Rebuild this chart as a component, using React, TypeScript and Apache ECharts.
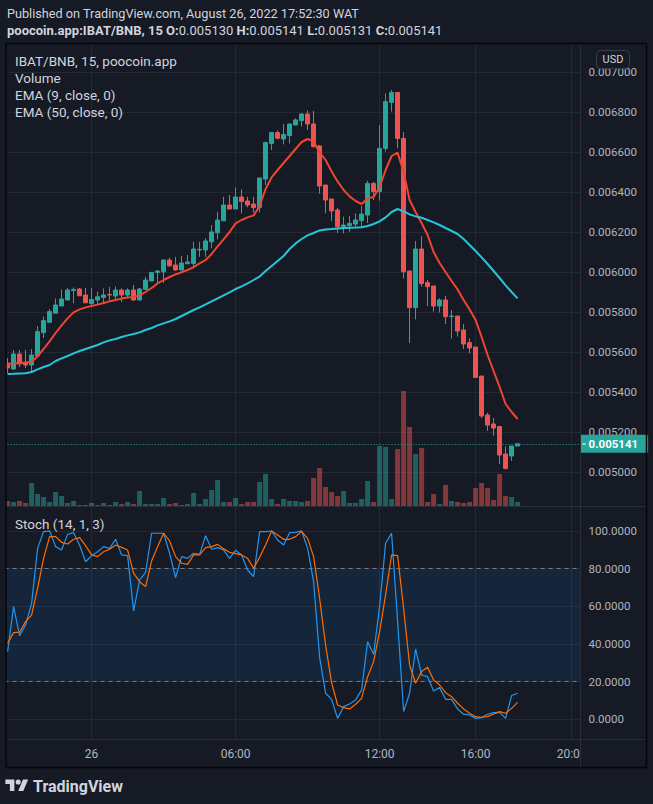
import React, { useEffect, useRef } from 'react';
import * as echarts from 'echarts';

// ---------- data ----------
// 15-minute bars, first bar 20:30 on Aug 25, last bar 17:45 on Aug 26
// [open, close, low, high]
const candles: number[][] = [
  [0.005545, 0.00552, 0.005495, 0.00557],
  [0.005515, 0.00559, 0.00551, 0.00561],
  [0.00559, 0.00554, 0.005525, 0.00561],
  [0.005547, 0.005535, 0.00552, 0.00561],
  [0.005535, 0.005585, 0.0055, 0.005615],
  [0.00558, 0.005702, 0.00558, 0.00573],
  [0.005697, 0.005757, 0.00567, 0.005777],
  [0.005749, 0.005802, 0.005745, 0.005815],
  [0.005794, 0.005835, 0.005794, 0.005868],
  [0.00583, 0.005865, 0.00583, 0.005913],
  [0.00586, 0.00591, 0.00586, 0.00592],
  [0.005907, 0.005913, 0.005843, 0.005923],
  [0.005915, 0.005881, 0.005881, 0.00592],
  [0.005885, 0.005846, 0.005845, 0.00592],
  [0.005843, 0.005863, 0.005826, 0.00592],
  [0.00586, 0.005876, 0.005835, 0.005901],
  [0.005873, 0.005885, 0.005848, 0.005918],
  [0.005887, 0.005885, 0.005851, 0.005926],
  [0.00588, 0.00591, 0.00586, 0.005927],
  [0.00591, 0.005885, 0.005851, 0.005918],
  [0.005885, 0.00591, 0.00587, 0.005918],
  [0.00591, 0.00586, 0.005857, 0.005935],
  [0.00586, 0.005915, 0.005858, 0.00592],
  [0.005913, 0.00596, 0.005913, 0.005975],
  [0.005955, 0.005998, 0.005955, 0.005998],
  [0.005998, 0.006005, 0.005945, 0.00601],
  [0.006001, 0.00606, 0.005945, 0.006063],
  [0.00606, 0.006031, 0.006026, 0.006071],
  [0.006035, 0.00601, 0.006006, 0.006076],
  [0.00601, 0.006045, 0.00601, 0.006081],
  [0.006041, 0.00605, 0.00604, 0.006085],
  [0.006043, 0.006115, 0.006018, 0.006151],
  [0.00611, 0.006113, 0.006076, 0.006151],
  [0.00611, 0.006155, 0.006076, 0.006168],
  [0.006151, 0.0062, 0.006118, 0.006235],
  [0.006196, 0.00626, 0.006163, 0.006301],
  [0.006256, 0.006335, 0.006256, 0.006376],
  [0.006335, 0.006315, 0.006315, 0.006385],
  [0.006315, 0.006375, 0.006315, 0.006423],
  [0.006375, 0.006352, 0.006293, 0.006413],
  [0.006355, 0.006335, 0.006324, 0.006376],
  [0.00634, 0.006322, 0.006297, 0.006376],
  [0.006322, 0.00647, 0.006297, 0.00647],
  [0.006465, 0.006647, 0.006435, 0.006652],
  [0.006643, 0.006697, 0.00661, 0.006697],
  [0.006697, 0.006669, 0.006663, 0.006707],
  [0.006665, 0.006687, 0.006638, 0.00674],
  [0.006682, 0.00674, 0.006643, 0.006743],
  [0.006735, 0.00676, 0.006735, 0.006768],
  [0.006757, 0.00679, 0.006727, 0.006793],
  [0.00679, 0.00674, 0.00671, 0.006807],
  [0.00674, 0.006627, 0.006622, 0.006805],
  [0.00663, 0.00643, 0.006392, 0.006635],
  [0.006435, 0.00636, 0.006293, 0.006435],
  [0.006365, 0.006305, 0.006255, 0.006365],
  [0.00631, 0.006227, 0.006195, 0.00632],
  [0.006227, 0.006235, 0.006193, 0.006277],
  [0.006232, 0.006243, 0.006201, 0.00628],
  [0.00624, 0.00626, 0.006227, 0.006293],
  [0.006257, 0.00629, 0.006227, 0.00633],
  [0.006285, 0.006443, 0.006245, 0.006456],
  [0.006443, 0.006402, 0.00636, 0.006451],
  [0.006402, 0.006618, 0.006357, 0.006735],
  [0.006618, 0.006852, 0.006602, 0.006893],
  [0.006848, 0.006898, 0.006802, 0.00691],
  [0.006898, 0.006668, 0.006618, 0.0069],
  [0.006668, 0.006001, 0.005968, 0.0067],
  [0.006005, 0.005822, 0.005645, 0.006005],
  [0.005822, 0.006115, 0.005763, 0.006155],
  [0.006115, 0.005943, 0.005927, 0.006178],
  [0.005947, 0.005927, 0.00583, 0.00596],
  [0.00593, 0.00583, 0.005802, 0.00593],
  [0.00583, 0.00586, 0.005797, 0.005869],
  [0.00586, 0.005777, 0.00574, 0.00588],
  [0.005777, 0.00578, 0.005667, 0.00581],
  [0.00578, 0.005705, 0.005677, 0.00578],
  [0.00571, 0.00564, 0.005615, 0.00574],
  [0.005647, 0.00562, 0.005593, 0.005668],
  [0.005625, 0.005473, 0.00547, 0.005625],
  [0.00548, 0.00528, 0.005271, 0.00548],
  [0.005285, 0.005235, 0.005206, 0.005296],
  [0.00524, 0.00522, 0.005182, 0.00527],
  [0.005227, 0.005085, 0.00504, 0.005227],
  [0.00509, 0.005018, 0.005013, 0.005127],
  [0.00508, 0.00513, 0.005055, 0.00513],
  [0.00513, 0.005141, 0.00513, 0.005141],
];

const volumes: number[] = [
  5, 4, 5, 3, 23, 12, 9, 4, 14, 10,
  3, 5, 1, 1, 3, 1, 3, 1, 4, 2,
  4, 2, 15, 2, 2, 2, 8, 2, 3, 1,
  2, 13, 2, 7, 16, 26, 4, 4, 8, 2,
  4, 4, 24, 32, 7, 2, 7, 5, 5, 4,
  5, 28, 38, 19, 14, 10, 15, 3, 3, 7,
  25, 4, 60, 59, 7, 57, 115, 79, 52, 58,
  4, 12, 2, 21, 5, 4, 3, 4, 18, 23,
  18, 6, 32, 10, 9, 4,
];

const ema9: number[] = [
  0.00554, 0.005543, 0.005545, 0.005548, 0.005551, 0.005578, 0.005615, 0.005653, 0.005695, 0.005733,
  0.005768, 0.005798, 0.005813, 0.005823, 0.00583, 0.005837, 0.005845, 0.005853, 0.00586, 0.005867,
  0.005873, 0.005875, 0.005883, 0.0059, 0.00592, 0.005943, 0.00596, 0.005975, 0.005988, 0.005999,
  0.00601, 0.006024, 0.006043, 0.00606, 0.00609, 0.006128, 0.006163, 0.0062, 0.006243, 0.00626,
  0.006273, 0.006283, 0.00633, 0.006415, 0.006473, 0.00651, 0.006545, 0.00658, 0.006615, 0.00665,
  0.006665, 0.006653, 0.006598, 0.00656, 0.006503, 0.006453, 0.00641, 0.006378, 0.006355, 0.00634,
  0.006368, 0.006375, 0.006425, 0.00651, 0.00658, 0.006597, 0.0065, 0.00636, 0.0063, 0.006245,
  0.006185, 0.0061, 0.006045, 0.006, 0.005955, 0.005913, 0.00586, 0.005813, 0.00576, 0.005675,
  0.005585, 0.005505, 0.005425, 0.00534, 0.0053, 0.005265,
];

const ema50: number[] = [
  0.00549, 0.005491, 0.005493, 0.005494, 0.0055, 0.005513, 0.005525, 0.005535, 0.005555, 0.005568,
  0.00558, 0.005593, 0.005605, 0.005615, 0.005625, 0.005635, 0.005648, 0.005658, 0.005665, 0.005675,
  0.005683, 0.00569, 0.005698, 0.00571, 0.00572, 0.005733, 0.005743, 0.005753, 0.005765, 0.00578,
  0.005795, 0.00581, 0.005823, 0.005838, 0.005853, 0.005868, 0.005883, 0.005898, 0.005915, 0.005928,
  0.005943, 0.00596, 0.005977, 0.006005, 0.00603, 0.006055, 0.00608, 0.006115, 0.006143, 0.006165,
  0.006183, 0.006195, 0.006208, 0.006213, 0.006215, 0.006218, 0.00622, 0.006221, 0.006222, 0.006224,
  0.00623, 0.00624, 0.006253, 0.006273, 0.0063, 0.006315, 0.006303, 0.006288, 0.006278, 0.006271,
  0.00626, 0.006248, 0.006235, 0.00622, 0.006205, 0.00619, 0.006165, 0.006135, 0.006105, 0.006073,
  0.00604, 0.006005, 0.00597, 0.005933, 0.0059, 0.005868,
];

const stochK: number[] = [
  35.9, 59.8, 44.4, 50.0, 61.5, 90.7, 99.6, 100, 91.6, 89.8,
  98.1, 99.0, 92.5, 83.6, 86.8, 88.9, 91.6, 90.7, 95.5, 87.2,
  86.8, 57.5, 73.9, 78.0, 98.7, 98.7, 98.7, 88.1, 75.2, 86.3,
  85.4, 88.1, 87.5, 97.4, 90.2, 91.1, 89.8, 85.4, 89.7, 87.2,
  79.2, 75.7, 99.6, 99.6, 99.9, 95.1, 92.5, 99.0, 99.2, 100,
  90.7, 73.0, 33.0, 13.8, 10.6, 0.5, 6.7, 8.1, 10.3, 15.6,
  41.2, 34.5, 59.8, 93.4, 98.7, 52.0, 4.1, 13.8, 37.3, 23.5,
  22.6, 15.0, 16.8, 10.6, 10.6, 5.5, 2.7, 2.3, 0.5, 0.9,
  2.7, 3.5, 3.7, 0.5, 12.6, 13.8,
];

const stochD: number[] = [
  40.3, 46.0, 46.2, 51.8, 55.3, 69.5, 85.4, 96.9, 96.9, 93.9,
  93.0, 95.5, 96.4, 92.1, 87.2, 86.3, 88.9, 90.2, 92.5, 91.2,
  89.8, 77.5, 73.0, 70.4, 84.0, 91.6, 98.7, 94.6, 86.3, 82.8,
  82.2, 87.2, 87.2, 91.1, 91.6, 92.8, 90.4, 88.6, 87.9, 87.2,
  85.4, 80.1, 85.9, 92.5, 99.9, 97.8, 95.5, 95.5, 96.9, 99.6,
  96.0, 86.3, 64.2, 39.4, 19.5, 7.6, 6.2, 5.5, 8.0, 11.1,
  22.6, 30.6, 46.5, 66.0, 87.2, 86.8, 58.9, 28.8, 19.1, 25.3,
  27.6, 20.9, 18.2, 14.1, 12.0, 8.5, 5.5, 3.2, 1.4, 1.1,
  1.4, 2.8, 4.1, 3.2, 5.8, 9.0,
];

const timeTicks: string[] = ['00:00', '06:00', '12:00', '16:00', '20:00'];
const timeTickLabels: string[] = ['26', '06:00', '12:00', '16:00', '20:00'];

const headerLine1 = 'Published on TradingView.com, August 26, 2022 17:52:30 WAT';
const legendLines: string[] = ['IBAT/BNB, 15, poocoin.app', 'Volume', 'EMA (9, close, 0)', 'EMA (50, close, 0)'];

// ---------- styling ----------
const BG = '#161a25';
const GRID = '#242834';
const UP = '#26a69a';
const DOWN = '#ef5350';
const VOL_UP = 'rgba(38,166,154,0.5)';
const VOL_DOWN = 'rgba(239,83,80,0.5)';
const TEXT = '#d1d4dc';
const AXIS_TEXT = '#b2b5be';
const FONT = 'Roboto';

// time slots: 15-minute categories from 20:30 (Aug 25), including empty future slots
const START_MIN = 20 * 60 + 30;
const SLOTS = 96;
const categories: string[] = Array.from({ length: SLOTS }, (_, i) => {
  const m = (START_MIN + 15 * i) % 1440;
  return `${String(Math.floor(m / 60)).padStart(2, '0')}:${String(m % 60).padStart(2, '0')}`;
});

echarts.graphic.registerShape(
  'tvlogo',
  echarts.graphic.extendPath('M14 22H7V11H0V4h14v18zM28 22h-8l7.5-18h8L28 22zM24 8a4 4 0 1 1-8 0a4 4 0 1 1 8 0z', {})
);

export default function App() {
  const ref = useRef<HTMLDivElement>(null);

  useEffect(() => {
    document.body.style.margin = '0';
    document.body.style.background = BG;
    const chart = echarts.init(ref.current!, null, { renderer: 'svg' });
    const last = candles[candles.length - 1];
    const lastClose = last[1];
    const isTick = (_: number, v: string) => timeTicks.indexOf(v) >= 0;

    const option: any = {
      animation: false,
      backgroundColor: BG,
      textStyle: { fontFamily: FONT },
      grid: [
        { left: 4.6, top: 32, width: 576, height: 480 },
        { left: 4.6, top: 306, width: 576, height: 200 },
        { left: 4.6, top: 493.1, width: 576, height: 263.9 },
        { left: 7.6, top: 44, width: 570, height: 695 },
      ],
      xAxis: [
        { type: 'category', gridIndex: 0, data: categories, boundaryGap: true, show: false },
        { type: 'category', gridIndex: 1, data: categories, boundaryGap: true, show: false },
        { type: 'category', gridIndex: 2, data: categories, boundaryGap: true, show: false },
        {
          type: 'category', gridIndex: 3, data: categories, boundaryGap: false,
          axisLine: { show: false }, axisTick: { show: false },
          axisLabel: {
            interval: isTick,
            formatter: (v: string) => timeTickLabels[timeTicks.indexOf(v)] ?? '',
            color: AXIS_TEXT, fontSize: 12, margin: 9, fontFamily: FONT,
          },
          splitLine: { show: true, interval: isTick, lineStyle: { color: GRID, width: 1 } },
        },
      ],
      yAxis: [
        {
          type: 'value', gridIndex: 0, position: 'right', min: 0.0048, max: 0.0072, interval: 0.0002,
          axisLine: { show: false }, axisTick: { show: false },
          axisLabel: {
            showMinLabel: false, showMaxLabel: false, margin: 8,
            formatter: (v: number) => v.toFixed(6), color: AXIS_TEXT, fontSize: 11.5, fontFamily: FONT,
          },
          splitLine: { show: true, showMinLine: false, showMaxLine: false, lineStyle: { color: GRID, width: 1 } },
        },
        { type: 'value', gridIndex: 1, min: 0, max: 200, show: false },
        {
          type: 'value', gridIndex: 2, position: 'right', min: -20, max: 120, interval: 20,
          axisLine: { show: false }, axisTick: { show: false },
          axisLabel: {
            showMinLabel: false, showMaxLabel: false, margin: 8,
            formatter: (v: number) => v.toFixed(4), color: AXIS_TEXT, fontSize: 11.5, fontFamily: FONT,
          },
          splitLine: { show: true, showMinLine: false, showMaxLine: false, lineStyle: { color: GRID, width: 1 } },
        },
        { type: 'value', gridIndex: 3, min: 0, max: 1, show: false },
      ],
      series: [
        {
          type: 'line', xAxisIndex: 3, yAxisIndex: 3, data: categories.map(() => null),
          showSymbol: false, silent: true, z: 0,
        },
        {
          type: 'bar', xAxisIndex: 1, yAxisIndex: 1, barWidth: 5, z: 1, silent: true,
          data: volumes.map((v, i) => ({
            value: v,
            itemStyle: { color: candles[i][1] >= candles[i][0] ? VOL_UP : VOL_DOWN },
          })),
        },
        {
          type: 'candlestick', xAxisIndex: 0, yAxisIndex: 0, barWidth: 5, z: 5, data: candles,
          itemStyle: { color: UP, color0: DOWN, borderColor: UP, borderColor0: DOWN, borderWidth: 1 },
        },
        {
          type: 'line', xAxisIndex: 0, yAxisIndex: 0, data: ema9, showSymbol: false, z: 6,
          lineStyle: { color: '#ef4531', width: 2 },
          markLine: {
            silent: true, symbol: ['none', 'none'], precision: 6,
            lineStyle: { color: UP, type: [1, 2], width: 1 },
            label: {
              show: true, position: 'end', distance: 0,
              formatter: () => lastClose.toFixed(6),
              color: '#ffffff', backgroundColor: UP, padding: [3, 10, 3, 8],
              fontSize: 11.5, fontFamily: FONT, fontWeight: 'bold',
            },
            data: [{ yAxis: lastClose }],
          },
        },
        {
          type: 'line', xAxisIndex: 0, yAxisIndex: 0, data: ema50, showSymbol: false, z: 6,
          lineStyle: { color: '#26c6da', width: 2 },
        },
        {
          type: 'line', xAxisIndex: 2, yAxisIndex: 2, data: stochK, showSymbol: false, z: 6,
          lineStyle: { color: '#2196f3', width: 1.2 },
          markArea: {
            silent: true,
            itemStyle: { color: 'rgba(33,150,243,0.1)' },
            data: [[{ yAxis: 20 }, { yAxis: 80 }]],
          },
          markLine: {
            silent: true, symbol: ['none', 'none'], label: { show: false },
            lineStyle: { color: '#787b86', type: [4, 4], width: 1 },
            data: [{ yAxis: 80 }, { yAxis: 20 }],
          },
        },
        {
          type: 'line', xAxisIndex: 2, yAxisIndex: 2, data: stochD, showSymbol: false, z: 6,
          lineStyle: { color: '#ff6d00', width: 1.2 },
        },
      ],
      graphic: [
        // header
        {
          type: 'text', x: 7, y: 13, z: 50,
          style: { text: headerLine1, fill: TEXT, fontSize: 12.7, fontFamily: FONT, verticalAlign: 'middle', textVerticalAlign: 'middle' },
        },
        {
          type: 'text', x: 7, y: 30, z: 50,
          style: {
            text: `{b|poocoin.app:IBAT/BNB, 15} {b|O:}{n|${candles[85][0].toFixed(6)}} {b|H:}{n|${last[3].toFixed(6)}} {b|L:}{n|0.005131} {b|C:}{n|${lastClose.toFixed(6)}}`,
            fill: TEXT, fontSize: 13, fontFamily: FONT, verticalAlign: 'middle', textVerticalAlign: 'middle',
            rich: {
              b: { fontWeight: 'bold', fontSize: 13, fontFamily: FONT, fill: TEXT, color: TEXT },
              n: { fontSize: 13, fontFamily: FONT, fill: TEXT, color: TEXT },
            },
          },
        },
        // pane legends
        ...legendLines.map((t, i) => ({
          type: 'text', x: 15, y: 61 + i * 17, z: 50,
          style: { text: t, fill: TEXT, fontSize: 13.5, fontFamily: FONT, verticalAlign: 'middle', textVerticalAlign: 'middle' },
        })),
        {
          type: 'text', x: 15, y: 524, z: 50,
          style: { text: 'Stoch (14, 1, 3)', fill: TEXT, fontSize: 13.5, fontFamily: FONT, verticalAlign: 'middle', textVerticalAlign: 'middle' },
        },
        // pane separators & price scale border
        { type: 'line', z: 40, shape: { x1: 6, y1: 506.5, x2: 646, y2: 506.5 }, style: { stroke: '#2a2e39', lineWidth: 1 } },
        // cover the part of the time labels that runs into the price scale
        { type: 'rect', z: 45, shape: { x: 581, y: 740, width: 65, height: 26 }, style: { fill: BG } },
        { type: 'line', z: 46, shape: { x1: 6, y1: 739.5, x2: 646, y2: 739.5 }, style: { stroke: '#2a2e39', lineWidth: 1 } },
        { type: 'line', z: 46, shape: { x1: 580.5, y1: 44, x2: 580.5, y2: 767 }, style: { stroke: '#2a2e39', lineWidth: 1 } },
        // price scale tick next to the last-price label
        { type: 'line', z: 80, shape: { x1: 582, y1: 444, x2: 586, y2: 444 }, style: { stroke: '#ffffff', lineWidth: 1 } },
        // outer frame
        { type: 'rect', z: 60, shape: { x: 0, y: 44, width: 5.5, height: 724 }, style: { fill: BG } },
        { type: 'rect', z: 61, shape: { x: 6, y: 43.5, width: 640.5, height: 724 }, style: { fill: 'none', stroke: '#05070b', lineWidth: 1.5 } },
        // USD button
        {
          type: 'rect', z: 70, shape: { x: 596.5, y: 50.5, width: 33, height: 18, r: 4 },
          style: { fill: BG, stroke: '#3a3e4a', lineWidth: 1 },
        },
        {
          type: 'text', x: 613, y: 59.5, z: 71,
          style: { text: 'USD', fill: TEXT, fontSize: 11, fontFamily: FONT, align: 'center', textAlign: 'center', verticalAlign: 'middle', textVerticalAlign: 'middle' },
        },
        // TradingView logo
        { type: 'tvlogo', x: 5.4, y: 776.9, scaleX: 0.64, scaleY: 0.64, z: 50, style: { fill: TEXT } },
        {
          type: 'text', x: 33, y: 786, z: 50,
          style: { text: 'TradingView', fill: TEXT, fontSize: 16, fontWeight: 'bold', fontFamily: FONT, verticalAlign: 'middle', textVerticalAlign: 'middle' },
        },
      ],
    };

    chart.setOption(option);
    return () => chart.dispose();
  }, []);

  return (
    <div
      ref={ref}
      style={{ position: 'fixed', left: 0, top: 0, width: 653, height: 804, background: BG }}
    />
  );
}
